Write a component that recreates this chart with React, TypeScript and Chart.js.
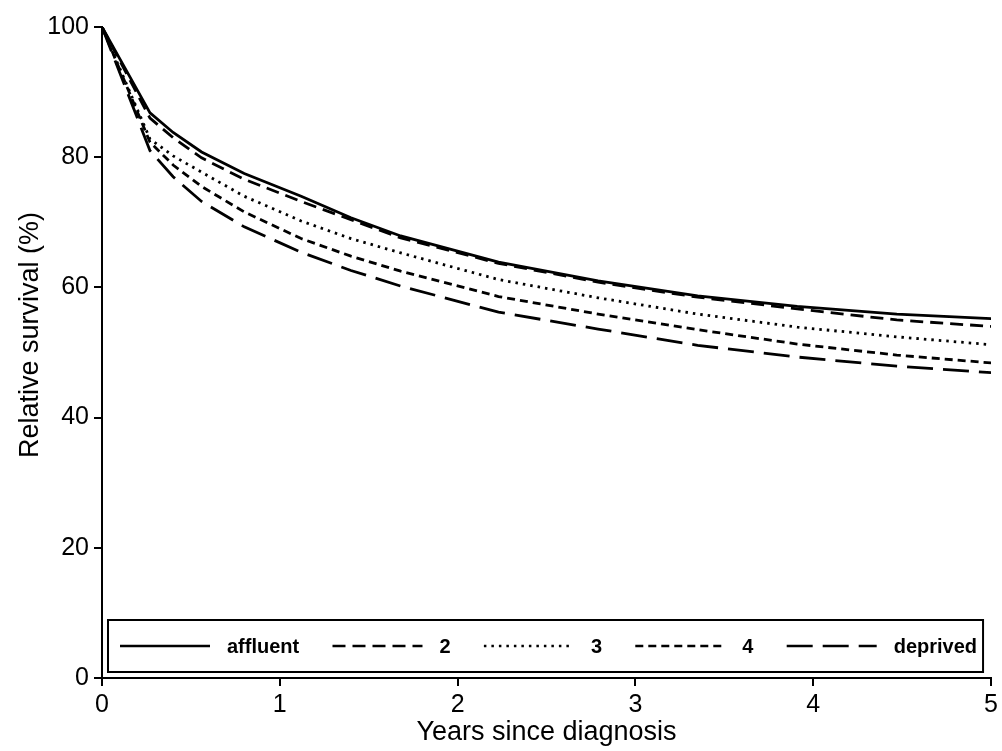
import { useEffect, useRef } from "react";
import { Chart, registerables } from "chart.js";

Chart.register(...registerables);

// Years since diagnosis at which the curves were read
const years = [0, 0.27, 0.4, 0.56, 0.8, 1.12, 1.4, 1.68, 2.23, 2.79, 3.35, 3.91, 4.47, 5];

// Relative survival (%) by deprivation group
const affluent = [100, 86.8, 83.8, 80.8, 77.5, 74.0, 70.7, 67.9, 63.9, 61.0, 58.7, 57.1, 55.9, 55.2];
const group2 = [100, 86.0, 83.0, 79.9, 76.6, 73.2, 70.4, 67.6, 63.7, 60.8, 58.5, 56.7, 55.0, 54.0];
const group3 = [100, 82.8, 80.2, 77.7, 74.0, 70.2, 67.5, 65.3, 61.2, 58.4, 55.9, 53.9, 52.4, 51.2];
const group4 = [100, 82.3, 78.8, 75.5, 71.6, 67.5, 64.8, 62.5, 58.6, 55.9, 53.5, 51.3, 49.6, 48.4];
const deprived = [100, 81.0, 77.0, 73.2, 69.3, 65.4, 62.6, 60.2, 56.2, 53.6, 51.1, 49.3, 47.9, 46.9];

const seriesLabels = ["affluent", "2", "3", "4", "deprived"];
const seriesValues = [affluent, group2, group3, group4, deprived];
const seriesDash: number[][] = [[], [13, 7], [2.5, 5], [8, 5], [26, 10]];

const xTicks = [0, 1, 2, 3, 4, 5];
const yTicks = [0, 20, 40, 60, 80, 100];

const xTitle = "Years since diagnosis";
const yTitle = "Relative survival (%)";

const FONT = "'Liberation Sans', Arial, Helvetica, sans-serif";

const yTitlePlugin = {
  id: "yTitleText",
  afterDraw(chart: any) {
    const { ctx, chartArea } = chart;
    const cy = chartArea.top + (chartArea.bottom - chartArea.top) * 0.473;
    ctx.save();
    ctx.translate(31, cy);
    ctx.rotate(-Math.PI / 2);
    ctx.font = `27px ${FONT}`;
    ctx.fillStyle = "#000";
    ctx.textAlign = "center";
    ctx.textBaseline = "middle";
    ctx.fillText(yTitle, 0, 0);
    ctx.restore();
  },
};

const boxLegend = {
  id: "boxLegend",
  afterDraw(chart: any) {
    const { ctx, chartArea } = chart;
    const left = chartArea.left + 6;
    const right = chartArea.right - 8;
    const bottom = chartArea.bottom - 6;
    const top = bottom - 52;
    ctx.save();
    ctx.strokeStyle = "#000";
    ctx.lineWidth = 2;
    ctx.setLineDash([]);
    ctx.strokeRect(left, top, right - left, bottom - top);
    ctx.font = `bold 20px ${FONT}`;
    const sample = 90;
    const gap = 17;
    const items = chart.data.datasets.map((ds: any) => ({ ds, w: ctx.measureText(ds.label).width }));
    const inner0 = left + 12;
    const inner1 = right - 6;
    const total = items.reduce((s: number, it: any) => s + sample + gap + it.w, 0);
    const space = (inner1 - inner0 - total) / (items.length - 1);
    let x = inner0;
    const cy = (top + bottom) / 2;
    items.forEach(({ ds, w }: any) => {
      ctx.setLineDash(ds.borderDash || []);
      ctx.lineWidth = 2.5;
      ctx.strokeStyle = "#000";
      ctx.beginPath();
      ctx.moveTo(x, cy);
      ctx.lineTo(x + sample, cy);
      ctx.stroke();
      ctx.setLineDash([]);
      ctx.fillStyle = "#000";
      ctx.textBaseline = "middle";
      ctx.textAlign = "left";
      ctx.fillText(ds.label, x + sample + gap, cy + 1);
      x += sample + gap + w + space;
    });
    ctx.restore();
  },
};

export default function App() {
  const canvasRef = useRef<HTMLCanvasElement | null>(null);

  useEffect(() => {
    document.body.style.margin = "0";
    const canvas = canvasRef.current;
    if (!canvas) return;
    const chart = new Chart(canvas, {
      type: "line",
      data: {
        datasets: seriesLabels.map((label, i) => ({
          label,
          data: years.map((x, j) => ({ x, y: seriesValues[i][j] })),
          borderColor: "#000",
          backgroundColor: "#000",
          borderWidth: 2.8,
          borderDash: seriesDash[i],
          pointRadius: 0,
          tension: 0,
          fill: false,
        })),
      },
      options: {
        responsive: false,
        animation: false,
        layout: { padding: { top: 27, right: 8, left: 0, bottom: 0 } },
        plugins: {
          legend: { display: false },
          tooltip: { enabled: false },
        },
        scales: {
          x: {
            type: "linear",
            min: 0,
            max: 5,
            afterBuildTicks: (s: any) => {
              s.ticks = xTicks.map((v) => ({ value: v }));
            },
            afterFit: (s: any) => {
              s.height = 73;
            },
            ticks: {
              color: "#000",
              font: { family: FONT, size: 25 },
              padding: 4,
              maxRotation: 0,
            },
            grid: {
              display: true,
              drawOnChartArea: false,
              drawTicks: true,
              tickLength: 8,
              color: "#000",
              lineWidth: 2,
            },
            border: { display: true, color: "#000", width: 2 },
            title: {
              display: true,
              text: xTitle,
              color: "#000",
              font: { family: FONT, size: 27 },
              padding: { top: 0, bottom: 2 },
            },
          },
          y: {
            type: "linear",
            min: 0,
            max: 100,
            afterBuildTicks: (s: any) => {
              s.ticks = yTicks.map((v) => ({ value: v }));
            },
            afterFit: (s: any) => {
              s.width = 102;
            },
            ticks: {
              color: "#000",
              font: { family: FONT, size: 25 },
              padding: 5,
            },
            grid: {
              display: true,
              drawOnChartArea: false,
              drawTicks: true,
              tickLength: 8,
              color: "#000",
              lineWidth: 2,
            },
            border: { display: true, color: "#000", width: 2 },
            title: { display: false },
          },
        },
      },
      plugins: [boxLegend, yTitlePlugin],
    });
    return () => chart.destroy();
  }, []);

  return (
    <div style={{ width: 1002, height: 751, background: "#fff" }}>
      <canvas ref={canvasRef} width={1002} height={751} style={{ display: "block" }} />
    </div>
  );
}
